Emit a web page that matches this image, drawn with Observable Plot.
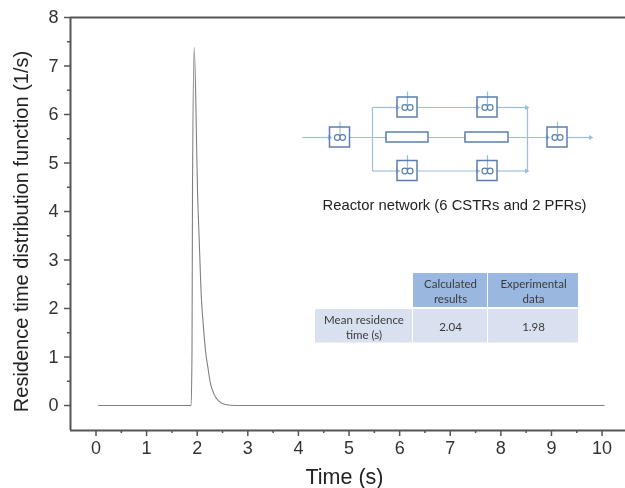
<!DOCTYPE html>
<html>
<head>
<meta charset="utf-8">
<script src="https://cdn.jsdelivr.net/npm/d3@7"></script>
<script src="https://cdn.jsdelivr.net/npm/@observablehq/plot@0.6"></script>
<style>
html,body{margin:0;padding:0;background:#fff;overflow:hidden}
svg{display:block;filter:blur(0.3px)}
</style>
</head>
<body>
<div id="chart"></div>
<script>
// Residence time distribution curve
const timeValues = [0.05,1.88,1.897,1.907,1.94,1.972,1.986,2.006,2.04,2.085,2.105,2.128,2.164,2.21,2.263,2.328,2.427,2.559,2.757,10.04];
const rtdValues  = [0,0,1.13,4.43,7.38,6.29,5.46,4.43,3.4,2.16,1.86,1.55,1.13,0.79,0.45,0.24,0.09,0.02,0,0];
const xMajor = [0,1,2,3,4,5,6,7,8,9,10];
const xMinor = [0.5,1.5,2.5,3.5,4.5,5.5,6.5,7.5,8.5,9.5];
const yMajor = [0,1,2,3,4,5,6,7,8];
const yMinor = [0.5,1.5,2.5,3.5,4.5,5.5,6.5,7.5];

const tableHead = ["Calculated\nresults","Experimental\ndata"];
const tableRow = ["Mean residence\ntime (s)","2.04","1.98"];

const W = 625, H = 488;
const xDomain = [-0.504,10.463], yDomain = [-0.515,8];
const L = 70, R = 625, T = 17, B = 430;
// annotation placement helpers: page position -> axis units
const ux = p => xDomain[0] + (p-L)/(R-L)*(xDomain[1]-xDomain[0]);
const uy = p => yDomain[1] - (p-T)/(B-T)*(yDomain[1]-yDomain[0]);

// Schematic layout
const cstrs = [[339.5,137],[407,107],[487,107],[407,170.5],[487,170.5],[557,137]];
const pfrs = [[386,428],[465,508]];
const pipes = [
  [302,137,329.5,137],[349.5,137,386,137],[428,137,465,137],[508,137,547,137],[567,137,591,137],
  [372,107,397,107],[417,107,477,107],[497,107,527,107],
  [372,170.5,397,170.5],[417,170.5,477,170.5],[497,170.5,527,170.5],
  [372,107,372,170.5],[527,107,527,170.5]
];
const heads = [[329,137],[386,137],[465,137],[547,137],[590,137],[397,107],[477,107],[526,107],[397,170.5],[477,170.5],[526,170.5]];
const cells = [
  [413,487,273,307,"#9ab8df",tableHead[0]],
  [488,578,273,307,"#9ab8df",tableHead[1]],
  [315,412,309,342.5,"#d9e1f1",tableRow[0]],
  [413,487,309,342.5,"#d9e1f1",tableRow[1]],
  [488,578,309,342.5,"#d9e1f1",tableRow[2]]
];
const curve = timeValues.map((t,i)=>({t,v:rtdValues[i]}));
const axisCol = "#555", textCol = "#333";
const pipeCol = "#9dbde0", boxCol = "#5b7fae";

const chart = Plot.plot({
  width:W, height:H,
  marginLeft:L, marginRight:W-R, marginTop:T, marginBottom:H-B,
  style:{background:"#fff",fontFamily:"'Liberation Sans',Arial,sans-serif"},
  x:{domain:xDomain},
  y:{domain:yDomain},
  marks:[
    Plot.ruleX([xDomain[0]],{stroke:axisCol,strokeWidth:2}),
    Plot.ruleY([yDomain[0]],{stroke:axisCol,strokeWidth:2}),
    Plot.ruleY([yDomain[1]],{stroke:axisCol,strokeWidth:2}),
    Plot.axisX({ticks:xMajor,tickSize:6,tickPadding:5,fontSize:18,color:textCol,stroke:axisCol,strokeWidth:1.5,label:null,tickFormat:d=>d}),
    Plot.axisX({ticks:xMinor,tickSize:3,text:null,stroke:axisCol,strokeWidth:1.5,label:null}),
    Plot.axisY({ticks:yMajor,tickSize:6,tickPadding:6,fontSize:18,color:textCol,stroke:axisCol,strokeWidth:1.5,label:null,tickFormat:d=>d}),
    Plot.axisY({ticks:yMinor,tickSize:3,text:null,stroke:axisCol,strokeWidth:1.5,label:null}),
    Plot.line(curve,{x:"t",y:"v",stroke:"#808080",strokeWidth:1.1,curve:"monotone-x"}),
    Plot.text(["Time (s)"],{x:ux(344),y:uy(477),text:d=>d,fontSize:21.5,fill:"#222"}),
    Plot.text(["Residence time distribution function (1/s)"],{x:ux(21),y:uy(231),text:d=>d,rotate:-90,fontSize:20,fill:"#222"}),

    // Reactor network schematic
    Plot.link(pipes,{x1:d=>ux(d[0]),y1:d=>uy(d[1]),x2:d=>ux(d[2]),y2:d=>uy(d[3]),stroke:pipeCol,strokeWidth:1.2}),
    Plot.dot(heads,{x:d=>ux(d[0]),y:d=>uy(d[1]),symbol:"triangle",rotate:90,r:0.9,fill:pipeCol,stroke:pipeCol}),
    Plot.link(cstrs,{x1:d=>ux(d[0]),y1:d=>uy(d[1]-16),x2:d=>ux(d[0]),y2:d=>uy(d[1]),stroke:pipeCol,strokeWidth:1.2}),
    Plot.rect(cstrs,{x1:d=>ux(d[0]-10),x2:d=>ux(d[0]+10),y1:d=>uy(d[1]-10),y2:d=>uy(d[1]+10),fill:"none",stroke:boxCol,strokeWidth:1.5}),
    Plot.dot(cstrs,{x:d=>ux(d[0]-2.7),y:d=>uy(d[1]),r:2.8,fill:"#fff",stroke:boxCol,strokeWidth:1.2}),
    Plot.dot(cstrs,{x:d=>ux(d[0]+2.7),y:d=>uy(d[1]),r:2.8,fill:"#fff",stroke:boxCol,strokeWidth:1.2}),
    Plot.rect(pfrs,{x1:d=>ux(d[0]),x2:d=>ux(d[1]),y1:()=>uy(132),y2:()=>uy(142),fill:"#fff",stroke:boxCol,strokeWidth:1.5}),
    Plot.text(["Reactor network (6 CSTRs and 2 PFRs)"],{x:ux(454),y:uy(205),text:d=>d,fontSize:14.8,fill:"#222"}),

    // Table
    Plot.rect(cells,{x1:d=>ux(d[0]),x2:d=>ux(d[1]),y1:d=>uy(d[2]),y2:d=>uy(d[3]),fill:d=>d[4]}),
    Plot.text(cells,{x:d=>ux((d[0]+d[1])/2),y:d=>uy((d[2]+d[3])/2),text:d=>d[5],fontFamily:"Lato,'Open Sans',sans-serif",fontSize:11.5,lineHeight:1.3,fill:"#3a3a3a"})
  ]
});
document.getElementById("chart").append(chart);
</script>
</body>
</html>
